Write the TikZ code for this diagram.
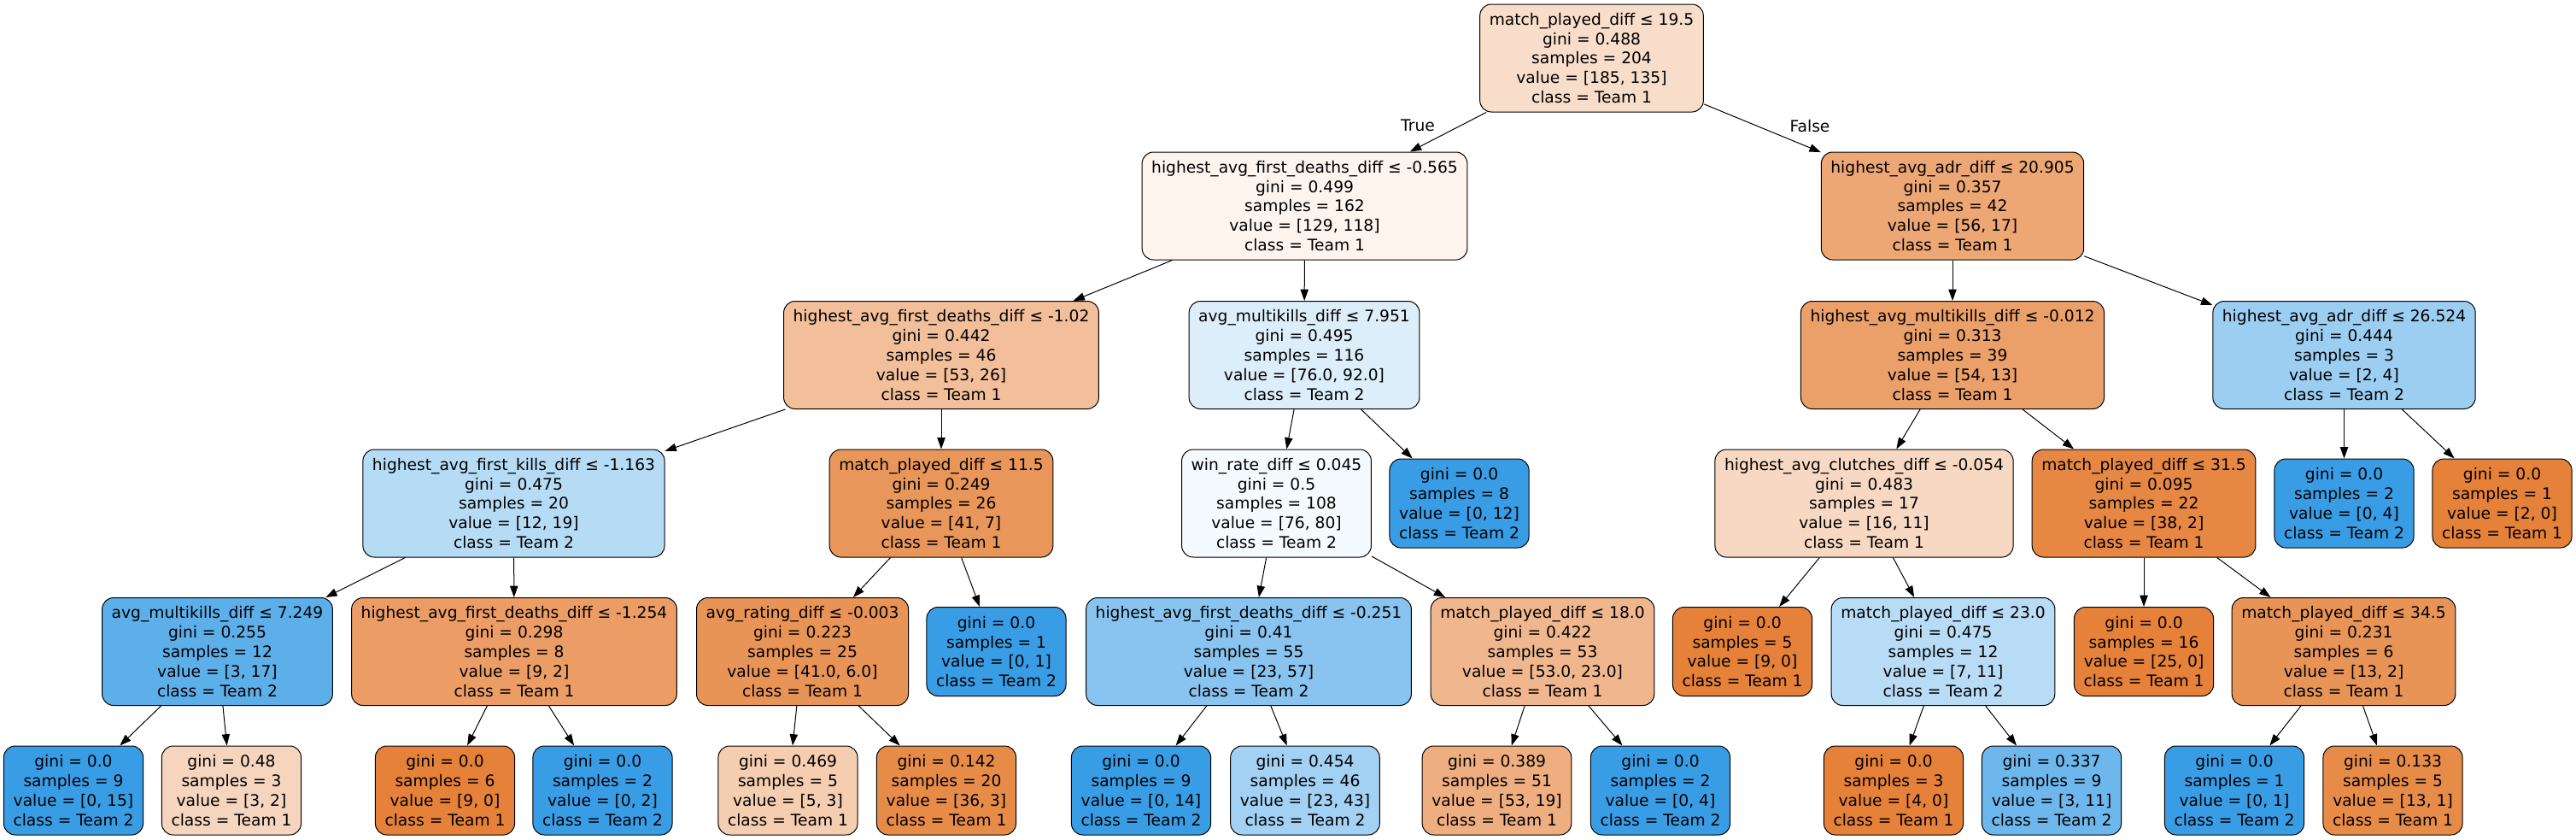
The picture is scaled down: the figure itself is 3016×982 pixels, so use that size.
\documentclass[tikz,border=0pt]{standalone}
\usepackage{fontspec}
\setmainfont{DejaVu Sans}
\usetikzlibrary{arrows.meta}
\tikzset{>={Triangle[length=10pt,width=7pt]}}
\definecolor{teamone}{RGB}{229,129,57}
\definecolor{teamtwo}{RGB}{57,157,229}
\tikzset{
  box/.style={draw,line width=0.75pt,rounded corners=10pt,align=center,inner xsep=8.3pt,inner ysep=2pt},
  split/.style={box,minimum height=94.5pt},
  leaf/.style={box,minimum height=78pt},
  link/.style={->,line width=0.75pt}
}
\begin{document}
\begin{tikzpicture}[x=0.75pt,y=-0.75pt,font=\fontsize{14}{17.1}\selectfont]
\useasboundingbox (0,0) rectangle (3016,982);
% level 0 and 1
\node[split,fill=teamone!27] (n0) at (1863.5,68) {match\_played\_diff ≤ 19.5\\gini = 0.488\\samples = 204\\value = [185, 135]\\class = Team 1};
\node[split,fill=teamone!9] (n1) at (1527.5,241) {highest\_avg\_first\_deaths\_diff ≤ -0.565\\gini = 0.499\\samples = 162\\value = [129, 118]\\class = Team 1};
\node[split,fill=teamone!70] (n24) at (2286,241) {highest\_avg\_adr\_diff ≤ 20.905\\gini = 0.357\\samples = 42\\value = [56, 17]\\class = Team 1};
% level 2
\node[split,fill=teamone!51] (n2) at (1102,415.5) {highest\_avg\_first\_deaths\_diff ≤ -1.02\\gini = 0.442\\samples = 46\\value = [53, 26]\\class = Team 1};
\node[split,fill=teamtwo!17] (n15) at (1527,415.5) {avg\_multikills\_diff ≤ 7.951\\gini = 0.495\\samples = 116\\value = [76.0, 92.0]\\class = Team 2};
\node[split,fill=teamone!76] (n25) at (2286,415.5) {highest\_avg\_multikills\_diff ≤ -0.012\\gini = 0.313\\samples = 39\\value = [54, 13]\\class = Team 1};
\node[split,fill=teamtwo!50] (n36) at (2744.5,415.5) {highest\_avg\_adr\_diff ≤ 26.524\\gini = 0.444\\samples = 3\\value = [2, 4]\\class = Team 2};
% level 3
\node[split,fill=teamtwo!37] (n3) at (601.5,589) {highest\_avg\_first\_kills\_diff ≤ -1.163\\gini = 0.475\\samples = 20\\value = [12, 19]\\class = Team 2};
\node[split,fill=teamone!83] (n10) at (1102,589) {match\_played\_diff ≤ 11.5\\gini = 0.249\\samples = 26\\value = [41, 7]\\class = Team 1};
\node[split,fill=teamtwo!5] (n16) at (1494.5,589) {win\_rate\_diff ≤ 0.045\\gini = 0.5\\samples = 108\\value = [76, 80]\\class = Team 2};
\node[leaf,fill=teamtwo] (n23) at (1708.5,589) {gini = 0.0\\samples = 8\\value = [0, 12]\\class = Team 2};
\node[split,fill=teamone!31] (n26) at (2182.5,589) {highest\_avg\_clutches\_diff ≤ -0.054\\gini = 0.483\\samples = 17\\value = [16, 11]\\class = Team 1};
\node[split,fill=teamone!95] (n31) at (2510,589) {match\_played\_diff ≤ 31.5\\gini = 0.095\\samples = 22\\value = [38, 2]\\class = Team 1};
\node[leaf,fill=teamtwo] (n37) at (2744.5,589) {gini = 0.0\\samples = 2\\value = [0, 4]\\class = Team 2};
\node[leaf,fill=teamone] (n38) at (2929.5,589) {gini = 0.0\\samples = 1\\value = [2, 0]\\class = Team 1};
% level 4
\node[split,fill=teamtwo!82] (n4) at (254.5,762.5) {avg\_multikills\_diff ≤ 7.249\\gini = 0.255\\samples = 12\\value = [3, 17]\\class = Team 2};
\node[split,fill=teamone!78] (n7) at (602,762.5) {highest\_avg\_first\_deaths\_diff ≤ -1.254\\gini = 0.298\\samples = 8\\value = [9, 2]\\class = Team 1};
\node[split,fill=teamone!85] (n11) at (939.5,762.5) {avg\_rating\_diff ≤ -0.003\\gini = 0.223\\samples = 25\\value = [41.0, 6.0]\\class = Team 1};
\node[leaf,fill=teamtwo] (n14) at (1166.5,762.5) {gini = 0.0\\samples = 1\\value = [0, 1]\\class = Team 2};
\node[split,fill=teamtwo!60] (n17) at (1462,762.5) {highest\_avg\_first\_deaths\_diff ≤ -0.251\\gini = 0.41\\samples = 55\\value = [23, 57]\\class = Team 2};
\node[split,fill=teamone!57] (n20) at (1806,762.5) {match\_played\_diff ≤ 18.0\\gini = 0.422\\samples = 53\\value = [53.0, 23.0]\\class = Team 1};
\node[leaf,fill=teamone] (n27) at (2040,762.5) {gini = 0.0\\samples = 5\\value = [9, 0]\\class = Team 1};
\node[split,fill=teamtwo!36] (n28) at (2275,762.5) {match\_played\_diff ≤ 23.0\\gini = 0.475\\samples = 12\\value = [7, 11]\\class = Team 2};
\node[leaf,fill=teamone] (n32) at (2510,762.5) {gini = 0.0\\samples = 16\\value = [25, 0]\\class = Team 1};
\node[split,fill=teamone!85] (n33) at (2744,762.5) {match\_played\_diff ≤ 34.5\\gini = 0.231\\samples = 6\\value = [13, 2]\\class = Team 1};
% level 5
\node[leaf,fill=teamtwo] (n5) at (86,925) {gini = 0.0\\samples = 9\\value = [0, 15]\\class = Team 2};
\node[leaf,fill=teamone!33] (n6) at (271,925) {gini = 0.48\\samples = 3\\value = [3, 2]\\class = Team 1};
\node[leaf,fill=teamone] (n8) at (521,925) {gini = 0.0\\samples = 6\\value = [9, 0]\\class = Team 1};
\node[leaf,fill=teamtwo] (n9) at (705.5,925) {gini = 0.0\\samples = 2\\value = [0, 2]\\class = Team 2};
\node[leaf,fill=teamone!40] (n12) at (922.5,925) {gini = 0.469\\samples = 5\\value = [5, 3]\\class = Team 1};
\node[leaf,fill=teamone!92] (n13) at (1108,925) {gini = 0.142\\samples = 20\\value = [36, 3]\\class = Team 1};
\node[leaf,fill=teamtwo] (n18) at (1336,925) {gini = 0.0\\samples = 9\\value = [0, 14]\\class = Team 2};
\node[leaf,fill=teamtwo!47] (n19) at (1528,925) {gini = 0.454\\samples = 46\\value = [23, 43]\\class = Team 2};
\node[leaf,fill=teamone!64] (n21) at (1752.5,925) {gini = 0.389\\samples = 51\\value = [53, 19]\\class = Team 1};
\node[leaf,fill=teamtwo] (n22) at (1944,925) {gini = 0.0\\samples = 2\\value = [0, 4]\\class = Team 2};
\node[leaf,fill=teamone] (n29) at (2217,925) {gini = 0.0\\samples = 3\\value = [4, 0]\\class = Team 1};
\node[leaf,fill=teamtwo!73] (n30) at (2402,925) {gini = 0.337\\samples = 9\\value = [3, 11]\\class = Team 2};
\node[leaf,fill=teamtwo] (n34) at (2616,925) {gini = 0.0\\samples = 1\\value = [0, 1]\\class = Team 2};
\node[leaf,fill=teamone!92] (n35) at (2801.5,925) {gini = 0.133\\samples = 5\\value = [13, 1]\\class = Team 1};
% branches
\draw[link] (n0) -- (n1);
\draw[link] (n0) -- (n24);
\draw[link] (n1) -- (n2);
\draw[link] (n1) -- (n15);
\draw[link] (n2) -- (n3);
\draw[link] (n2) -- (n10);
\draw[link] (n3) -- (n4);
\draw[link] (n3) -- (n7);
\draw[link] (n4) -- (n5);
\draw[link] (n4) -- (n6);
\draw[link] (n7) -- (n8);
\draw[link] (n7) -- (n9);
\draw[link] (n10) -- (n11);
\draw[link] (n10) -- (n14);
\draw[link] (n11) -- (n12);
\draw[link] (n11) -- (n13);
\draw[link] (n15) -- (n16);
\draw[link] (n15) -- (n23);
\draw[link] (n16) -- (n17);
\draw[link] (n16) -- (n20);
\draw[link] (n17) -- (n18);
\draw[link] (n17) -- (n19);
\draw[link] (n20) -- (n21);
\draw[link] (n20) -- (n22);
\draw[link] (n24) -- (n25);
\draw[link] (n24) -- (n36);
\draw[link] (n25) -- (n26);
\draw[link] (n25) -- (n31);
\draw[link] (n26) -- (n27);
\draw[link] (n26) -- (n28);
\draw[link] (n28) -- (n29);
\draw[link] (n28) -- (n30);
\draw[link] (n31) -- (n32);
\draw[link] (n31) -- (n33);
\draw[link] (n33) -- (n34);
\draw[link] (n33) -- (n35);
\draw[link] (n36) -- (n37);
\draw[link] (n36) -- (n38);
\node (truelab) at (1660,147) {True};
\node (falselab) at (2119,148) {False};
\end{tikzpicture}
\end{document}
